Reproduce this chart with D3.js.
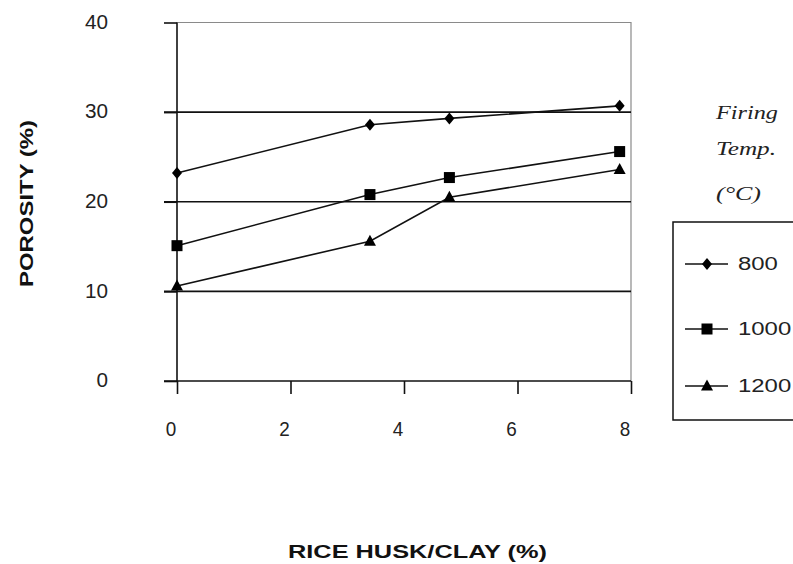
<!DOCTYPE html>
<html>
<head>
<meta charset="utf-8">
<script src="https://cdn.jsdelivr.net/npm/d3@7"></script>
<style>
  html, body { margin: 0; padding: 0; background: #fff; }
  svg { display: block; }
</style>
</head>
<body>
<svg id="chart" width="793" height="564"></svg>
<script>
// ---- data ----
const xTicks = [0, 2, 4, 6, 8];
const yTicks = [0, 10, 20, 30, 40];
const gridValues = [10, 20, 30];
const seriesNames = ["800", "1000", "1200"];
const huskX = [0, 3.4, 4.8, 7.8];
const porosity800 = [23.2, 28.6, 29.3, 30.7];
const porosity1000 = [15.1, 20.8, 22.7, 25.6];
const porosity1200 = [10.6, 15.6, 20.5, 23.6];
const markerTypes = ["diamond", "square", "triangle"];
const legendTitle = ["Firing", "Temp.", "(\u00B0C)"];
const xTitle = "RICE HUSK/CLAY (%)";
const yTitle = "POROSITY (%)";

const seriesValues = [porosity800, porosity1000, porosity1200];

// ---- layout ----
const svg = d3.select("#chart");
const L = 177, R = 631, T = 22.5, B = 381;
const x = d3.scaleLinear().domain([0, 8]).range([L, R]);
const y = d3.scaleLinear().domain([0, 40]).range([B, T]);
const font = "'Liberation Sans', Arial, sans-serif";

// plot border (grey top/right)
svg.append("path")
  .attr("d", `M${L},${y(40)}H${R}V${B}`)
  .attr("fill", "none").attr("stroke", "#8a8a8a").attr("stroke-width", 1.2);

// gridlines
svg.append("g").selectAll("line").data(gridValues).join("line")
  .attr("x1", L - 13).attr("x2", R)
  .attr("y1", d => y(d)).attr("y2", d => y(d))
  .attr("stroke", "#111").attr("stroke-width", 1.6);

// y axis
const yAxis = svg.append("g").attr("transform", `translate(${L},0)`)
  .call(d3.axisLeft(y).tickValues(yTicks).tickSize(13).tickFormat(""));
yAxis.select(".domain").attr("stroke", "#111").attr("stroke-width", 1.6).attr("d", `M0,${y(40)}V${B}`);
yAxis.selectAll(".tick line").attr("stroke", "#111").attr("stroke-width", 1.6);

// x axis
const xAxis = svg.append("g").attr("transform", `translate(0,${B})`)
  .call(d3.axisBottom(x).tickValues(xTicks).tickSize(13).tickFormat(""));
xAxis.select(".domain").attr("stroke", "#111").attr("stroke-width", 1.6).attr("d", `M${L - 13},0H${R}`);
xAxis.selectAll(".tick line").attr("stroke", "#111").attr("stroke-width", 1.6);

// y tick labels
svg.append("g").selectAll("text").data(yTicks).join("text")
  .attr("x", 108).attr("y", d => y(d) + 1)
  .attr("text-anchor", "end").attr("dominant-baseline", "middle")
  .attr("font-family", font).attr("font-size", 20).attr("fill", "#222")
  .attr("textLength", d => String(d).length * 11.5)
  .attr("lengthAdjust", "spacingAndGlyphs")
  .text(d => d);

// x tick labels
svg.append("g").selectAll("text").data(xTicks).join("text")
  .attr("x", d => x(d) - 6).attr("y", 431)
  .attr("text-anchor", "middle").attr("dominant-baseline", "middle")
  .attr("font-family", font).attr("font-size", 20).attr("fill", "#222")
  .attr("textLength", 10.5).attr("lengthAdjust", "spacingAndGlyphs")
  .text(d => d);

// axis titles
svg.append("text")
  .attr("x", 288).attr("y", 558)
  .attr("font-family", font).attr("font-weight", "bold").attr("font-size", 18).attr("fill", "#111")
  .attr("textLength", 259).attr("lengthAdjust", "spacingAndGlyphs")
  .text(xTitle);
svg.append("text")
  .attr("transform", "translate(33,287) rotate(-90)")
  .attr("font-family", font).attr("font-weight", "bold").attr("font-size", 18).attr("fill", "#111")
  .attr("textLength", 167).attr("lengthAdjust", "spacingAndGlyphs")
  .text(yTitle);

// markers
function drawMarker(g, type, cx, cy) {
  if (type === "diamond") {
    g.append("path").attr("d", `M${cx},${cy - 6}L${cx + 5},${cy}L${cx},${cy + 6}L${cx - 5},${cy}Z`).attr("fill", "#000");
  } else if (type === "square") {
    g.append("rect").attr("x", cx - 5.5).attr("y", cy - 5.5).attr("width", 11).attr("height", 11).attr("fill", "#000");
  } else {
    g.append("path").attr("d", `M${cx},${cy - 6.5}L${cx + 6},${cy + 4.5}L${cx - 6},${cy + 4.5}Z`).attr("fill", "#000");
  }
}

const line = d3.line().x(d => x(d[0])).y(d => y(d[1]));
seriesValues.forEach((vals, i) => {
  const pts = huskX.map((xv, j) => [xv, vals[j]]);
  const g = svg.append("g");
  g.append("path").attr("d", line(pts)).attr("fill", "none")
    .attr("stroke", "#111").attr("stroke-width", 1.6);
  pts.forEach(p => drawMarker(g, markerTypes[i], x(p[0]), y(p[1])));
});

// legend title (italic serif)
const titleY = [119, 155, 200];
const titleW = [62, 60, 45];
legendTitle.forEach((t, i) => {
  svg.append("text")
    .attr("x", 716).attr("y", titleY[i])
    .attr("font-family", "'Liberation Serif', 'Times New Roman', serif")
    .attr("font-style", "italic").attr("font-size", 19).attr("fill", "#222")
    .attr("textLength", titleW[i]).attr("lengthAdjust", "spacingAndGlyphs")
    .text(t);
});

// legend box
svg.append("path")
  .attr("d", "M800,222H673V420H800")
  .attr("fill", "none").attr("stroke", "#111").attr("stroke-width", 1.5);

const legendY = [264, 329, 386];
seriesNames.forEach((name, i) => {
  const g = svg.append("g");
  g.append("line").attr("x1", 685).attr("x2", 728).attr("y1", legendY[i]).attr("y2", legendY[i])
    .attr("stroke", "#111").attr("stroke-width", 1.6);
  drawMarker(g, markerTypes[i], 707, legendY[i]);
  g.append("text").attr("x", 738).attr("y", legendY[i] + 1)
    .attr("dominant-baseline", "middle")
    .attr("font-family", font).attr("font-size", 18).attr("fill", "#222")
    .attr("textLength", name.length * 13.3).attr("lengthAdjust", "spacingAndGlyphs")
    .text(name);
});
</script>
</body>
</html>
